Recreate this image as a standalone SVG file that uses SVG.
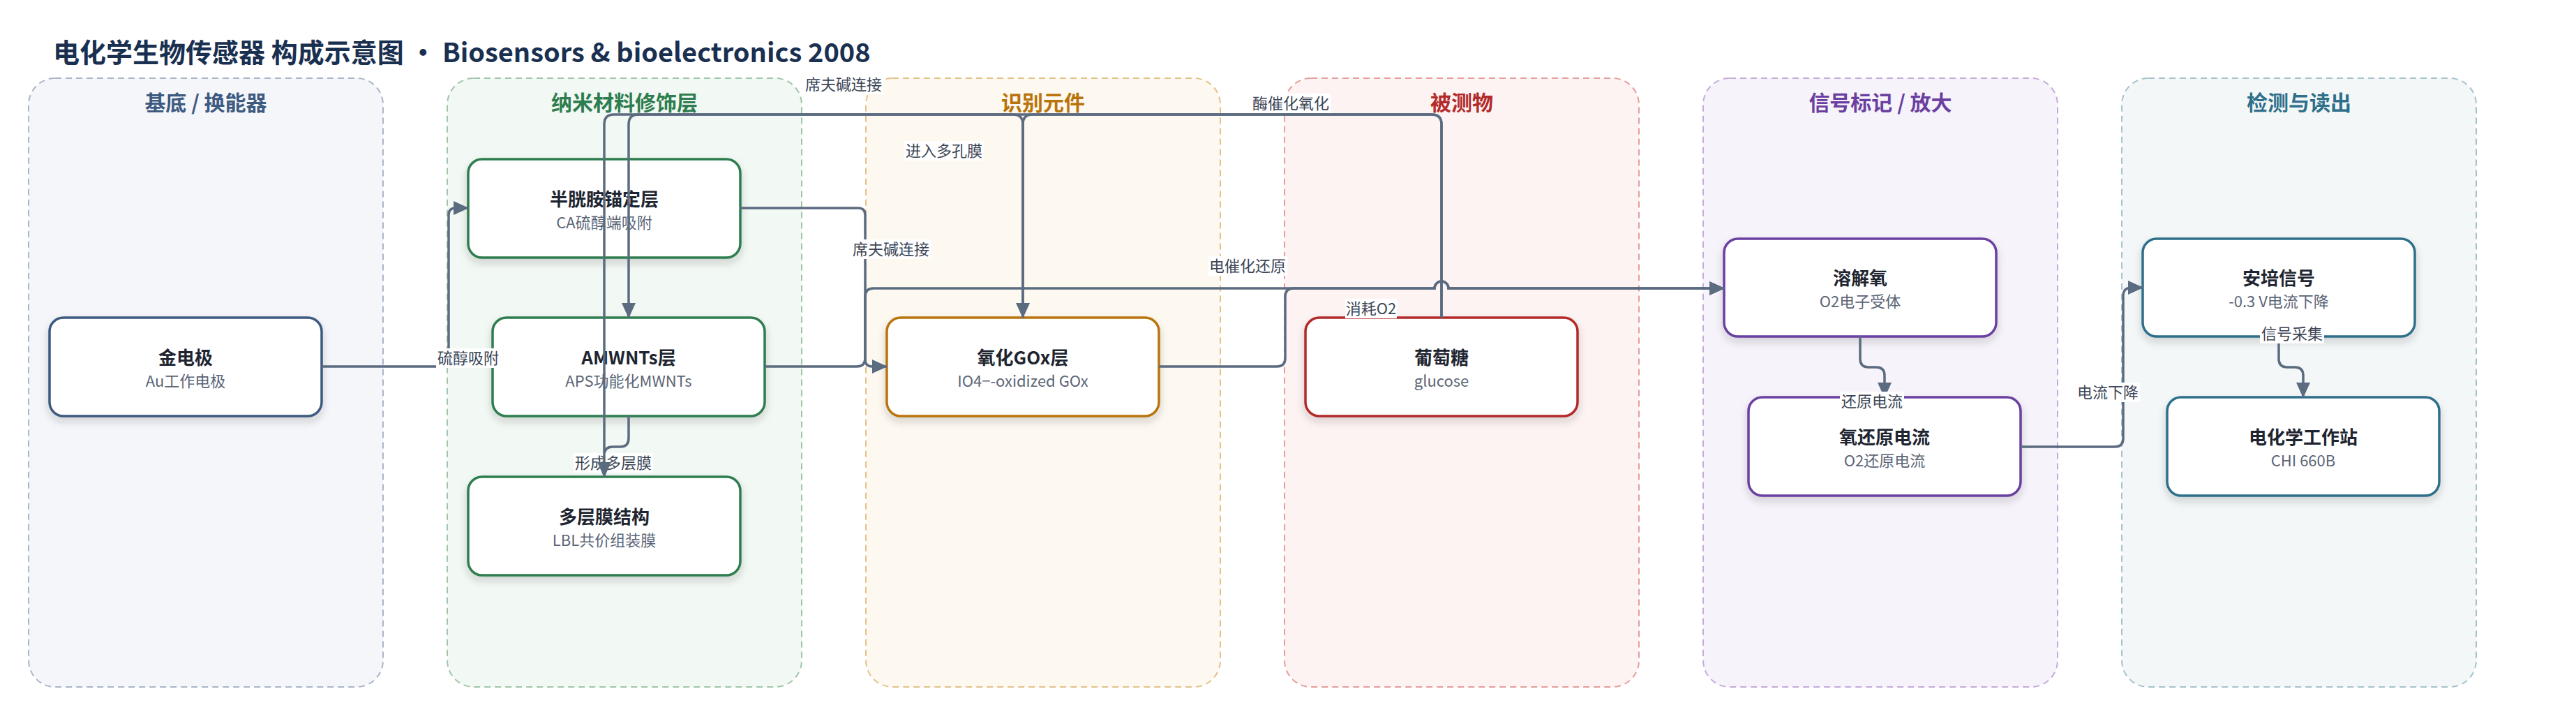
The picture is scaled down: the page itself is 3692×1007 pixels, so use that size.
<svg xmlns="http://www.w3.org/2000/svg" width="3692" height="1007" viewBox="0 0 3692 1007">
<defs>
<style>
text{font-family:"Noto Sans CJK SC","Noto Sans","Liberation Sans",sans-serif;}
.title{font-size:38px;font-weight:700;fill:#1a3050;}
.lane{stroke-width:2;stroke-dasharray:9 6;}
.lt{font-size:30px;font-weight:700;text-anchor:middle;}
.node rect{fill:#ffffff;stroke-width:3.5;filter:url(#sh);}
.nt{font-size:26px;font-weight:700;fill:#1e2530;text-anchor:middle;}
.ns{font-size:22px;fill:#5b6576;text-anchor:middle;}
.edge{fill:none;stroke:#5b6b80;stroke-width:3.5;}
.arr{marker-end:url(#ah);}
.lb{font-size:22px;fill:#3b4555;text-anchor:middle;}
.lbg{fill:#ffffff;}
</style>
<filter id="sh" x="-10%" y="-10%" width="120%" height="140%">
<feDropShadow dx="0" dy="6" stdDeviation="6" flood-color="#1a2233" flood-opacity="0.18"/>
</filter>
<marker id="ah" markerUnits="userSpaceOnUse" markerWidth="22" markerHeight="20" viewBox="0 0 22 20" refX="21" refY="10" orient="auto">
<path d="M0,0 L22,10 L0,20 z" fill="#5b6b80"/>
</marker>
</defs>
<rect x="0" y="0" width="3692" height="1007" fill="#ffffff"/>
<text class="title" x="76" y="89">电化学生物传感器 构成示意图 · Biosensors &amp; bioelectronics 2008</text>

<g id="lanes">
<g id="lane-substrate"><rect class="lane" x="41" y="112" width="508" height="872" rx="38" fill="#f5f6fa" stroke="#a9b5c9"/><text class="lt" x="295" y="158" fill="#3d5a80">基底 / 换能器</text></g>
<g id="lane-nano"><rect class="lane" x="641" y="112" width="508" height="872" rx="38" fill="#f2f8f3" stroke="#9fc6a8"/><text class="lt" x="895" y="158" fill="#2e7d4f">纳米材料修饰层</text></g>
<g id="lane-recog"><rect class="lane" x="1241" y="112" width="508" height="872" rx="38" fill="#fdf8f0" stroke="#e4c189"/><text class="lt" x="1495" y="158" fill="#b8740a">识别元件</text></g>
<g id="lane-analyte"><rect class="lane" x="1841" y="112" width="508" height="872" rx="38" fill="#fdf3f2" stroke="#e49e9b"/><text class="lt" x="2095" y="158" fill="#b22a2a">被测物</text></g>
<g id="lane-signal"><rect class="lane" x="2441" y="112" width="508" height="872" rx="38" fill="#f7f3fb" stroke="#c4abdc"/><text class="lt" x="2695" y="158" fill="#6a3fa0">信号标记 / 放大</text></g>
<g id="lane-detect"><rect class="lane" x="3041" y="112" width="508" height="872" rx="38" fill="#f3f7f8" stroke="#a6c2cd"/><text class="lt" x="3295" y="158" fill="#2f6f8a">检测与读出</text></g>
</g>

<g id="nodes">
<g id="n-au" class="node"><rect x="71" y="455" width="390" height="141" rx="20" stroke="#3d5a80"/><text class="nt" x="266" y="522">金电极</text><text class="ns" x="266" y="554">Au工作电极</text></g>
<g id="n-ca" class="node"><rect x="671" y="228" width="390" height="141" rx="20" stroke="#2e7d4f"/><text class="nt" x="866" y="295">半胱胺锚定层</text><text class="ns" x="866" y="327">CA硫醇端吸附</text></g>
<g id="n-amwnts" class="node"><rect x="706" y="455" width="390" height="141" rx="20" stroke="#2e7d4f"/><text class="nt" x="901" y="522">AMWNTs层</text><text class="ns" x="901" y="554">APS功能化MWNTs</text></g>
<g id="n-lbl" class="node"><rect x="671" y="683" width="390" height="141" rx="20" stroke="#2e7d4f"/><text class="nt" x="866" y="750">多层膜结构</text><text class="ns" x="866" y="782">LBL共价组装膜</text></g>
<g id="n-gox" class="node"><rect x="1271" y="455" width="390" height="141" rx="20" stroke="#b8740a"/><text class="nt" x="1466" y="522">氧化GOx层</text><text class="ns" x="1466" y="554">IO4−-oxidized GOx</text></g>
<g id="n-glucose" class="node"><rect x="1871" y="455" width="390" height="141" rx="20" stroke="#b22a2a"/><text class="nt" x="2066" y="522">葡萄糖</text><text class="ns" x="2066" y="554">glucose</text></g>
<g id="n-o2" class="node"><rect x="2471" y="342" width="390" height="140" rx="20" stroke="#6a3fa0"/><text class="nt" x="2666" y="408">溶解氧</text><text class="ns" x="2666" y="440">O2电子受体</text></g>
<g id="n-orr" class="node"><rect x="2506" y="569" width="390" height="141" rx="20" stroke="#6a3fa0"/><text class="nt" x="2701" y="636">氧还原电流</text><text class="ns" x="2701" y="668">O2还原电流</text></g>
<g id="n-amp" class="node"><rect x="3071" y="342" width="390" height="140" rx="20" stroke="#2f6f8a"/><text class="nt" x="3266" y="408">安培信号</text><text class="ns" x="3266" y="440">-0.3 V电流下降</text></g>
<g id="n-chi" class="node"><rect x="3106" y="569" width="390" height="141" rx="20" stroke="#2f6f8a"/><text class="nt" x="3301" y="636">电化学工作站</text><text class="ns" x="3301" y="668">CHI 660B</text></g>
</g>

<g id="connectors">
<g id="e-au-ca"><path class="edge arr" d="M461,525 H633 Q643,525 643,515 V308 Q643,298 653,298 H671"/><rect class="lbg" x="625" y="499" width="92" height="28"/><text class="lb" x="671" y="521">硫醇吸附</text></g>
<g id="e-ca-gox"><path class="edge arr" d="M1061,298 H1230 Q1240,298 1240,308 V515 Q1240,525 1250,525 H1271"/><rect class="lbg" x="1220" y="343" width="114" height="28"/><text class="lb" x="1277" y="365">席夫碱连接</text></g>
<g id="e-amwnts-o2"><path class="edge arr" d="M1096,525 H1228 Q1240,525 1240,513 V425 Q1240,413 1252,413 H2056 A10,10 0 0 1 2076,413 H2471"/><rect class="lbg" x="1731" y="367" width="114" height="28"/><text class="lb" x="1788" y="389">电催化还原</text></g>
<g id="e-gox-o2"><path class="edge arr" d="M1661,525 H1830 Q1842,525 1842,513 V425 Q1842,413 1854,413 H2056 A10,10 0 0 1 2076,413 H2471"/><rect class="lbg" x="1928" y="428" width="74" height="28"/><text class="lb" x="1965" y="450">消耗O2</text></g>
<g id="e-glucose-gox"><path class="edge arr" d="M2066,455 V178 Q2066,164 2052,164 H1480 Q1466,164 1466,178 V455"/><rect class="lbg" x="1793" y="134" width="114" height="28"/><text class="lb" x="1850" y="156">酶催化氧化</text></g>
<g id="e-gox-amwnts"><path class="edge arr" d="M1466,455 V178 Q1466,164 1452,164 H915 Q901,164 901,178 V455"/><rect class="lbg" x="1152" y="107" width="114" height="28"/><text class="lb" x="1209" y="129">席夫碱连接</text></g>
<g id="e-amwnts-lbl"><path class="edge arr" d="M901,596 V628 Q901,640 889,640 H878 Q866,640 866,652 V683"/><rect class="lbg" x="822" y="649" width="114" height="28"/><text class="lb" x="879" y="671">形成多层膜</text></g>
<g id="e-glucose-lbl"><path class="edge arr" d="M2066,455 V178 Q2066,164 2052,164 H880 Q866,164 866,178 V683"/><rect class="lbg" x="1296" y="202" width="114" height="28"/><text class="lb" x="1353" y="224">进入多孔膜</text></g>
<g id="e-o2-orr"><path class="edge arr" d="M2666,482 V514 Q2666,526 2678,526 H2689 Q2701,526 2701,538 V569"/><rect class="lbg" x="2637" y="561" width="92" height="28"/><text class="lb" x="2683" y="583">还原电流</text></g>
<g id="e-orr-amp"><path class="edge arr" d="M2896,640 H3031 Q3043,640 3043,628 V424 Q3043,412 3055,412 H3071"/><rect class="lbg" x="2975" y="548" width="92" height="28"/><text class="lb" x="3021" y="570">电流下降</text></g>
<g id="e-amp-chi"><path class="edge arr" d="M3266,482 V514 Q3266,526 3278,526 H3289 Q3301,526 3301,538 V569"/><rect class="lbg" x="3239" y="464" width="92" height="28"/><text class="lb" x="3285" y="486">信号采集</text></g>
</g>
</svg>
